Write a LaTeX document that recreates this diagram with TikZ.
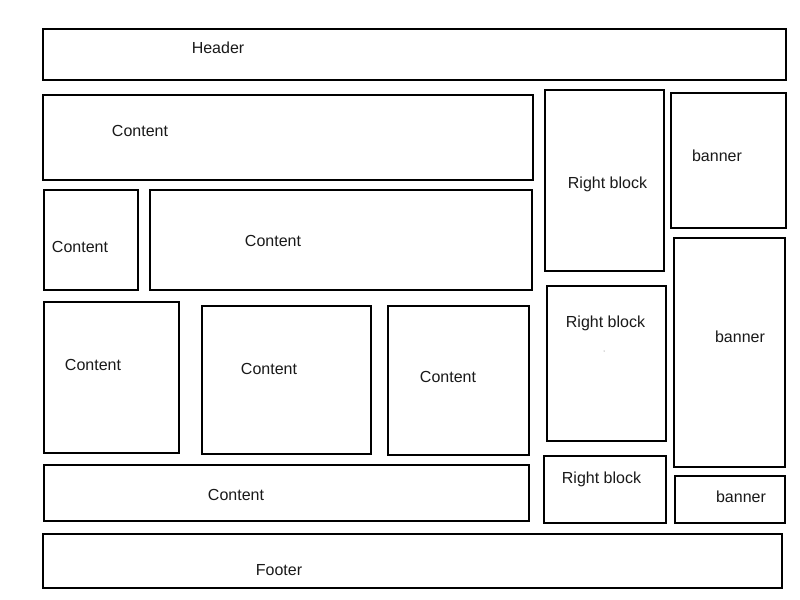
\documentclass[tikz,border=0pt]{standalone}
\usepackage{fontspec}
\setmainfont{Liberation Sans}
\begin{document}
\begin{tikzpicture}[x=0.75pt,y=-0.75pt,
  box/.style={draw=black,line width=1.5pt,fill=white},
  lbl/.style={font=\fontsize{12pt}{14pt}\selectfont,anchor=base,inner sep=0pt,text=black!90}]
\useasboundingbox (0,0) rectangle (800,600);
% boxes
\draw[box] (43,29) rectangle (786,80);
\draw[box] (43,95) rectangle (533,180);
\draw[box] (44,190) rectangle (138,290);
\draw[box] (150,190) rectangle (532,290);
\draw[box] (44,302) rectangle (179,453);
\draw[box] (202,306) rectangle (371,454);
\draw[box] (388,306) rectangle (529,455);
\draw[box] (44,465) rectangle (529,521);
\draw[box] (43,534) rectangle (782,588);
\draw[box] (545,90) rectangle (664,271);
\draw[box] (547,286) rectangle (666,441);
\draw[box] (544,456) rectangle (666,523);
\draw[box] (671,93) rectangle (786,228);
\draw[box] (674,238) rectangle (785,467);
\draw[box] (675,476) rectangle (785,523);
% labels
\node[lbl] (header) at (218,53) {Header};
\node[lbl] (c1) at (140,136) {Content};
\node[lbl] (c2) at (80,252) {Content};
\node[lbl] (c3) at (273,246) {Content};
\node[lbl] (c4) at (93,370) {Content};
\node[lbl] (c5) at (269,374) {Content};
\node[lbl] (c6) at (448,382) {Content};
\node[lbl] (c7) at (236,500) {Content};
\node[lbl] (footer) at (279,575) {Footer};
\node[lbl] (r1) at (607.5,188) {Right block};
\node[lbl] (r2) at (605.5,327) {Right block};
\node[lbl] (r3) at (601.5,483) {Right block};
\node[lbl] (b1) at (717,161) {banner};
\node[lbl] (b2) at (740,342) {banner};
\node[lbl] (b3) at (741,502) {banner};
\fill[black!60] (604,351) circle (0.5);
\end{tikzpicture}
\end{document}
